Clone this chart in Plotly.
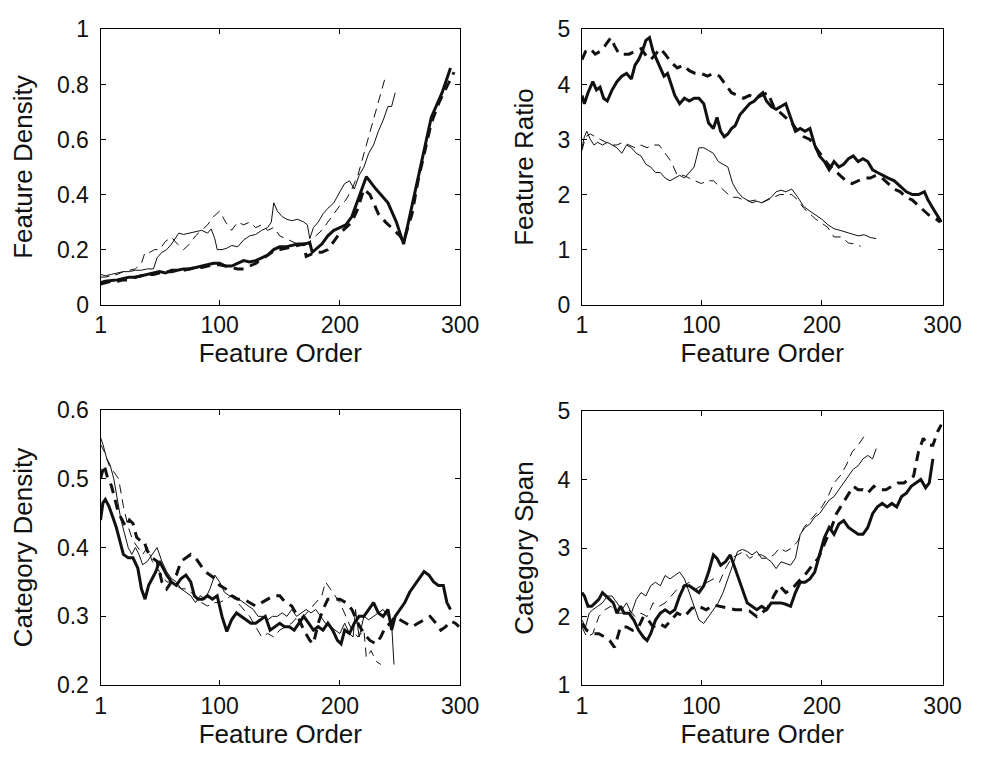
import plotly.graph_objects as go

# ---------------- Feature Density (top-left) ----------------
fd_a_x = [1,5,10,15,20,25,30,35,40,45,50,55,60,65,70,75,80,85,90,95,100,105,110,115,120,125,130,135,140,145,150,155,160,165,170,175,177,180,185,190,195,200,205,210,215,222,230,240,247,253,260,265,270,276,285,292]
fd_a_y = [.08,.085,.088,.09,.095,.10,.10,.105,.11,.115,.12,.115,.125,.125,.13,.13,.135,.14,.145,.15,.15,.14,.14,.15,.16,.155,.16,.17,.18,.2,.21,.21,.215,.22,.22,.225,.19,.2,.22,.25,.27,.28,.29,.32,.38,.465,.42,.37,.3,.22,.36,.46,.56,.68,.77,.86]
fd_b_x = [1,5,10,15,20,25,30,35,40,45,50,55,60,65,70,75,80,85,90,95,100,105,110,115,120,125,130,135,140,145,150,155,160,165,170,172,180,185,190,195,200,205,210,215,220,225,232,238,245,250,253,260,265,270,276,283,290,295]
fd_b_y = [.075,.08,.085,.085,.09,.09,.1,.105,.11,.11,.115,.12,.12,.125,.125,.13,.135,.135,.14,.145,.145,.14,.135,.13,.13,.14,.15,.165,.18,.195,.2,.205,.21,.215,.22,.175,.19,.19,.2,.23,.26,.28,.3,.35,.42,.40,.33,.3,.27,.25,.23,.33,.45,.55,.66,.74,.8,.845]
fd_c_x = [1,5,10,15,20,25,30,35,40,45,48,52,56,60,63,66,70,75,80,85,90,93,96,98,102,106,110,115,120,125,130,135,140,143,145,148,152,156,160,165,170,173,175,178,182,186,190,195,200,204,208,212,216,220,224,228,232,236,240,243,246]
fd_c_y = [.11,.105,.11,.115,.12,.12,.125,.125,.13,.13,.17,.19,.2,.22,.24,.26,.255,.26,.265,.27,.26,.275,.24,.2,.2,.205,.215,.21,.235,.25,.255,.27,.28,.3,.37,.34,.32,.31,.305,.31,.3,.29,.24,.28,.3,.33,.35,.37,.41,.44,.45,.42,.47,.5,.55,.58,.63,.67,.72,.72,.77]
fd_d_x = [1,5,10,15,20,25,30,35,38,42,46,50,55,60,65,70,75,80,85,90,95,100,105,110,115,120,125,130,135,140,145,150,155,160,165,170,175,180,185,190,195,200,205,210,215,220,225,230,234,238]
fd_d_y = [.1,.1,.105,.11,.12,.125,.13,.15,.19,.19,.2,.2,.23,.245,.22,.2,.22,.25,.27,.29,.32,.34,.3,.27,.3,.29,.3,.28,.29,.27,.28,.25,.24,.23,.22,.22,.23,.25,.27,.3,.33,.36,.38,.42,.47,.55,.62,.7,.77,.83]

# ---------------- Feature Ratio (top-right) ----------------
fr_a_x = [1,3,6,10,13,16,19,22,26,30,34,38,42,45,48,51,54,57,60,63,66,69,72,75,78,82,86,90,94,98,102,106,110,113,116,119,122,125,128,132,136,140,144,148,151,154,158,162,166,170,174,178,182,186,190,194,198,202,206,210,214,218,222,226,230,234,238,242,246,250,255,260,265,270,275,280,285,288,292,296,299]
fr_a_y = [3.8,3.65,3.85,4.05,3.9,3.95,3.75,3.7,3.9,4.05,4.15,4.2,4.1,4.35,4.45,4.6,4.8,4.85,4.6,4.45,4.3,4.15,4.2,4.0,3.8,3.65,3.75,3.7,3.75,3.75,3.65,3.3,3.2,3.4,3.15,3.05,3.1,3.2,3.25,3.45,3.55,3.65,3.7,3.8,3.85,3.7,3.6,3.55,3.6,3.65,3.4,3.15,3.2,3.15,3.2,2.9,2.7,2.6,2.45,2.6,2.5,2.55,2.65,2.7,2.6,2.65,2.6,2.45,2.4,2.35,2.3,2.25,2.15,2.05,2.0,2.0,2.05,1.9,1.75,1.6,1.5]
fr_b_x = [1,4,8,12,16,20,25,28,32,36,40,45,50,55,58,62,66,70,75,80,85,90,95,100,105,110,115,120,125,130,135,140,145,150,155,160,165,170,175,180,185,190,195,200,205,210,215,220,225,230,235,240,245,250,255,260,265,270,275,280,285,290,295,298]
fr_b_y = [4.45,4.6,4.65,4.55,4.6,4.7,4.85,4.7,4.55,4.55,4.55,4.6,4.65,4.5,4.45,4.55,4.65,4.55,4.4,4.3,4.35,4.25,4.2,4.2,4.15,4.2,4.15,4.0,3.85,3.8,3.75,3.8,3.75,3.8,3.85,3.6,3.5,3.4,3.3,3.15,3.05,3.0,2.85,2.7,2.55,2.45,2.35,2.25,2.2,2.25,2.3,2.3,2.35,2.3,2.2,2.1,2.05,1.95,1.9,1.8,1.7,1.6,1.55,1.5]
fr_c_x = [1,3,5,8,11,14,18,22,26,30,34,38,42,46,50,54,58,62,66,70,74,78,82,86,90,94,98,102,106,110,114,118,122,126,130,134,138,142,146,150,154,158,162,166,170,175,180,185,190,195,200,205,210,215,220,225,230,235,240,245]
fr_c_y = [2.85,3.05,3.15,3.0,2.9,2.95,2.9,2.95,2.9,2.85,2.75,2.9,2.85,2.75,2.7,2.55,2.5,2.4,2.4,2.3,2.25,2.3,2.35,2.3,2.4,2.5,2.85,2.85,2.8,2.75,2.6,2.55,2.5,2.2,2.05,1.95,1.9,1.85,1.88,1.85,1.9,1.95,2.05,2.08,2.05,2.1,1.95,1.78,1.7,1.62,1.55,1.45,1.38,1.35,1.32,1.28,1.25,1.27,1.22,1.2]
fr_d_x = [1,4,8,12,16,20,25,30,35,40,45,50,55,60,65,70,75,80,85,90,95,100,105,110,115,120,125,130,135,140,145,150,155,160,165,170,175,180,185,190,195,200,205,210,216,222,228,232]
fr_d_y = [2.8,3.05,3.1,3.05,3.0,2.95,2.9,2.9,2.95,2.9,2.85,2.9,2.85,2.9,2.9,2.75,2.6,2.35,2.35,2.3,2.25,2.2,2.25,2.25,2.15,2.05,1.95,1.95,1.9,1.88,1.9,1.85,1.9,1.95,2.0,2.0,2.0,1.9,1.75,1.65,1.55,1.48,1.4,1.23,1.23,1.12,1.1,1.06]

# ---------------- Category Density (bottom-left) ----------------
cd_a_x = [1,3,5,8,11,14,17,20,24,28,32,35,38,41,44,47,50,53,56,60,64,68,72,76,79,82,86,90,94,98,102,106,110,114,118,122,126,130,134,138,142,146,150,154,158,162,166,170,174,178,182,186,190,194,198,201,204,208,212,216,220,224,228,232,236,240,243,246,250,254,258,262,266,270,274,278,282,286,289,292]
cd_a_y = [.44,.465,.47,.46,.445,.43,.41,.39,.385,.385,.37,.34,.325,.345,.355,.365,.38,.37,.36,.35,.345,.355,.36,.35,.33,.325,.325,.33,.325,.33,.3,.278,.295,.305,.3,.295,.29,.29,.295,.3,.28,.285,.29,.285,.285,.28,.29,.3,.29,.28,.285,.28,.29,.28,.265,.26,.28,.275,.29,.3,.3,.31,.32,.305,.3,.31,.28,.3,.31,.32,.335,.345,.355,.365,.36,.35,.345,.345,.32,.31]
cd_b_x = [1,4,7,10,13,16,19,22,25,28,31,34,37,40,44,48,52,56,60,64,68,72,76,80,84,88,92,96,100,105,110,115,120,125,130,135,140,145,150,155,160,165,170,175,178,182,186,190,195,200,205,210,215,220,225,230,234,238,242,246,250,255,260,265,270,275,280,284,288,292,296,299]
cd_b_y = [.5,.52,.5,.49,.47,.45,.44,.43,.44,.435,.415,.41,.41,.395,.385,.38,.35,.34,.35,.36,.38,.385,.39,.385,.375,.365,.36,.355,.345,.34,.33,.325,.325,.32,.315,.32,.325,.33,.33,.32,.315,.3,.28,.265,.26,.29,.31,.325,.325,.325,.32,.31,.29,.275,.265,.26,.27,.285,.29,.3,.295,.29,.285,.29,.295,.3,.29,.28,.285,.293,.29,.285]
cd_c_x = [1,3,6,9,12,15,18,21,24,27,30,33,36,40,44,48,52,56,60,64,68,72,76,80,84,88,92,96,100,104,108,112,116,120,124,128,132,136,140,144,148,152,156,160,164,168,172,176,180,184,188,192,196,200,204,208,211,213,216,220,224,228,232,236,240,243,245]
cd_c_y = [.56,.55,.53,.52,.5,.47,.44,.42,.4,.39,.4,.39,.375,.38,.39,.4,.38,.365,.355,.35,.34,.335,.33,.32,.33,.325,.34,.36,.35,.335,.33,.33,.325,.32,.315,.31,.3,.3,.295,.3,.3,.305,.3,.31,.3,.305,.31,.305,.31,.3,.29,.285,.28,.275,.29,.275,.27,.31,.27,.3,.295,.3,.305,.31,.3,.29,.23]
cd_d_x = [1,4,8,12,16,20,24,28,32,36,40,44,48,52,56,60,64,68,72,76,80,85,90,95,100,105,110,115,120,125,130,135,140,145,150,155,160,165,170,175,180,185,188,192,196,200,205,210,215,220,222,226,230,234]
cd_d_y = [.55,.54,.52,.51,.5,.46,.43,.41,.4,.39,.4,.38,.37,.36,.35,.35,.345,.34,.34,.335,.33,.32,.315,.32,.32,.325,.33,.32,.31,.3,.285,.27,.275,.27,.28,.285,.29,.3,.3,.31,.32,.33,.35,.34,.33,.32,.3,.28,.27,.28,.24,.25,.235,.23]

# ---------------- Category Span (bottom-right) ----------------
cs_a_x = [1,3,6,9,12,15,18,21,24,27,30,33,36,40,44,48,52,55,58,62,66,70,74,78,82,86,90,94,98,102,106,110,113,116,120,124,127,130,134,138,142,146,150,154,158,162,166,170,174,178,182,186,190,194,198,202,206,210,214,218,222,226,230,234,238,242,246,250,254,258,262,266,270,274,278,282,286,289,292]
cs_a_y = [2.35,2.3,2.15,2.15,2.2,2.25,2.35,2.3,2.25,2.2,2.05,2.15,2.05,2.05,1.95,1.8,1.7,1.65,1.75,1.95,2.05,2.1,2.05,2.1,2.3,2.45,2.45,2.4,2.35,2.45,2.65,2.9,2.85,2.75,2.8,2.9,2.75,2.6,2.4,2.2,2.15,2.1,2.15,2.1,2.2,2.2,2.2,2.18,2.15,2.35,2.5,2.5,2.55,2.65,2.9,3.15,3.3,3.2,3.35,3.4,3.3,3.25,3.2,3.2,3.3,3.5,3.6,3.65,3.6,3.65,3.6,3.75,3.8,3.9,3.95,4.0,3.88,3.95,4.3]
cs_b_x = [1,5,10,15,20,24,28,33,38,43,48,52,56,60,65,70,75,80,86,92,98,104,110,116,122,128,134,140,146,150,155,160,165,170,175,180,187,192,197,203,208,212,217,222,226,230,234,238,243,248,253,258,263,268,272,276,280,284,288,292,296,299]
cs_b_y = [1.9,1.8,1.75,1.75,1.7,1.65,1.55,1.85,1.85,1.8,1.85,2.0,1.95,1.85,1.9,1.85,1.95,2.05,2.0,2.12,2.15,2.1,2.17,2.15,2.12,2.1,2.1,2.08,2.0,2.05,2.12,2.3,2.45,2.35,2.4,2.5,2.63,2.75,2.85,3.1,3.3,3.5,3.65,3.8,3.9,3.85,3.85,3.8,3.9,3.85,3.85,3.9,3.95,3.95,4.0,4.05,4.4,4.6,4.5,4.5,4.7,4.8]
cs_c_x = [1,4,7,10,14,18,22,26,30,34,38,42,46,50,54,58,62,66,70,74,78,82,86,90,94,98,102,106,110,114,118,122,126,130,134,138,142,146,150,154,158,162,166,170,174,178,182,186,190,194,198,202,206,210,214,218,222,226,230,234,238,242,245]
cs_c_y = [1.95,1.85,2.05,2.1,2.15,2.2,2.3,2.3,2.2,2.1,2.2,2.05,2.25,2.35,2.3,2.45,2.5,2.45,2.6,2.55,2.6,2.65,2.55,2.35,2.15,1.95,1.9,2.0,2.1,2.2,2.35,2.55,2.75,2.95,2.98,2.95,2.9,2.95,2.85,2.85,2.8,2.7,2.8,2.78,2.75,2.85,3.2,3.3,3.35,3.45,3.5,3.6,3.7,3.75,3.85,3.95,4.05,4.15,4.2,4.3,4.35,4.3,4.45]
cs_d_x = [1,5,10,15,20,25,30,35,40,45,50,55,60,65,70,75,80,85,90,95,100,105,110,115,120,125,130,135,140,145,150,155,160,165,170,175,180,185,190,195,200,205,210,215,220,225,230,235]
cs_d_y = [1.85,1.7,1.75,2.0,2.1,2.15,2.05,2.05,2.1,2.0,2.05,2.0,2.2,2.15,2.2,2.3,2.4,2.45,2.5,2.4,2.45,2.5,2.55,2.5,2.7,2.85,2.9,2.95,2.85,2.9,2.9,2.85,2.9,3.0,2.95,3.0,3.1,3.3,3.4,3.5,3.6,3.75,3.95,4.05,4.2,4.4,4.5,4.63]

x_ticks = [1, 100, 200, 300]
x_title = "Feature Order"
panel_titles = ["Feature Density", "Feature Ratio", "Category Density", "Category Span"]
y_ticks = [[0, 0.2, 0.4, 0.6, 0.8, 1], [0, 1, 2, 3, 4, 5], [0.2, 0.3, 0.4, 0.5, 0.6], [1, 2, 3, 4, 5]]
y_ticktext = [["0", "0.2", "0.4", "0.6", "0.8", "1"], ["0", "1", "2", "3", "4", "5"],
              ["0.2", "0.3", "0.4", "0.5", "0.6"], ["1", "2", "3", "4", "5"]]
y_ranges = [[0, 1], [0, 5], [0.2, 0.6], [1, 5]]

panels = [
    [(fd_a_x, fd_a_y), (fd_b_x, fd_b_y), (fd_c_x, fd_c_y), (fd_d_x, fd_d_y)],
    [(fr_a_x, fr_a_y), (fr_b_x, fr_b_y), (fr_c_x, fr_c_y), (fr_d_x, fr_d_y)],
    [(cd_a_x, cd_a_y), (cd_b_x, cd_b_y), (cd_c_x, cd_c_y), (cd_d_x, cd_d_y)],
    [(cs_a_x, cs_a_y), (cs_b_x, cs_b_y), (cs_c_x, cs_c_y), (cs_d_x, cs_d_y)],
]
styles = [
    dict(width=3, dash="solid"),
    dict(width=3, dash="10px,7px"),
    dict(width=1, dash="solid"),
    dict(width=1, dash="9px,6px"),
]

W, H = 982, 759
boxes = [(97, 466, 17, 302), (591, 961, 17, 302), (97, 466, 411, 696), (591, 961, 412, 696)]

fig = go.Figure()
font = "Liberation Sans, Arial, sans-serif"
for i, series in enumerate(panels):
    ax = "" if i == 0 else str(i + 1)
    for (xs, ys), st in zip(series, styles):
        fig.add_trace(go.Scatter(x=xs, y=ys, mode="lines", showlegend=False,
                                 line=dict(color="#111111", width=st["width"], dash=st["dash"]),
                                 xaxis="x" + ax, yaxis="y" + ax))
    l, r, t, b = boxes[i]
    common = dict(showline=True, linecolor="black", linewidth=1, mirror="ticks",
                  ticks="inside", ticklen=5, tickcolor="black", showgrid=False, zeroline=False,
                  tickfont=dict(family=font, size=23, color="#111"))
    fig.layout["xaxis" + ax] = dict(common, domain=[l / W, r / W], range=[1, 300],
                                    tickvals=x_ticks, ticktext=[str(v) for v in x_ticks],
                                    anchor="y" + ax,
                                    title=dict(text=x_title, font=dict(family=font, size=26, color="#111"), standoff=6))
    fig.layout["yaxis" + ax] = dict(common, domain=[1 - b / H, 1 - t / H], range=y_ranges[i],
                                    tickvals=y_ticks[i], ticktext=y_ticktext[i], anchor="x" + ax,
                                    ticklabelstandoff=6,
                                    title=dict(text=panel_titles[i], font=dict(family=font, size=26, color="#111"), standoff=16))

fig.update_layout(width=W, height=H, margin=dict(l=0, r=0, t=0, b=0),
                  paper_bgcolor="white", plot_bgcolor="white")
fig.write_html("out.html")
